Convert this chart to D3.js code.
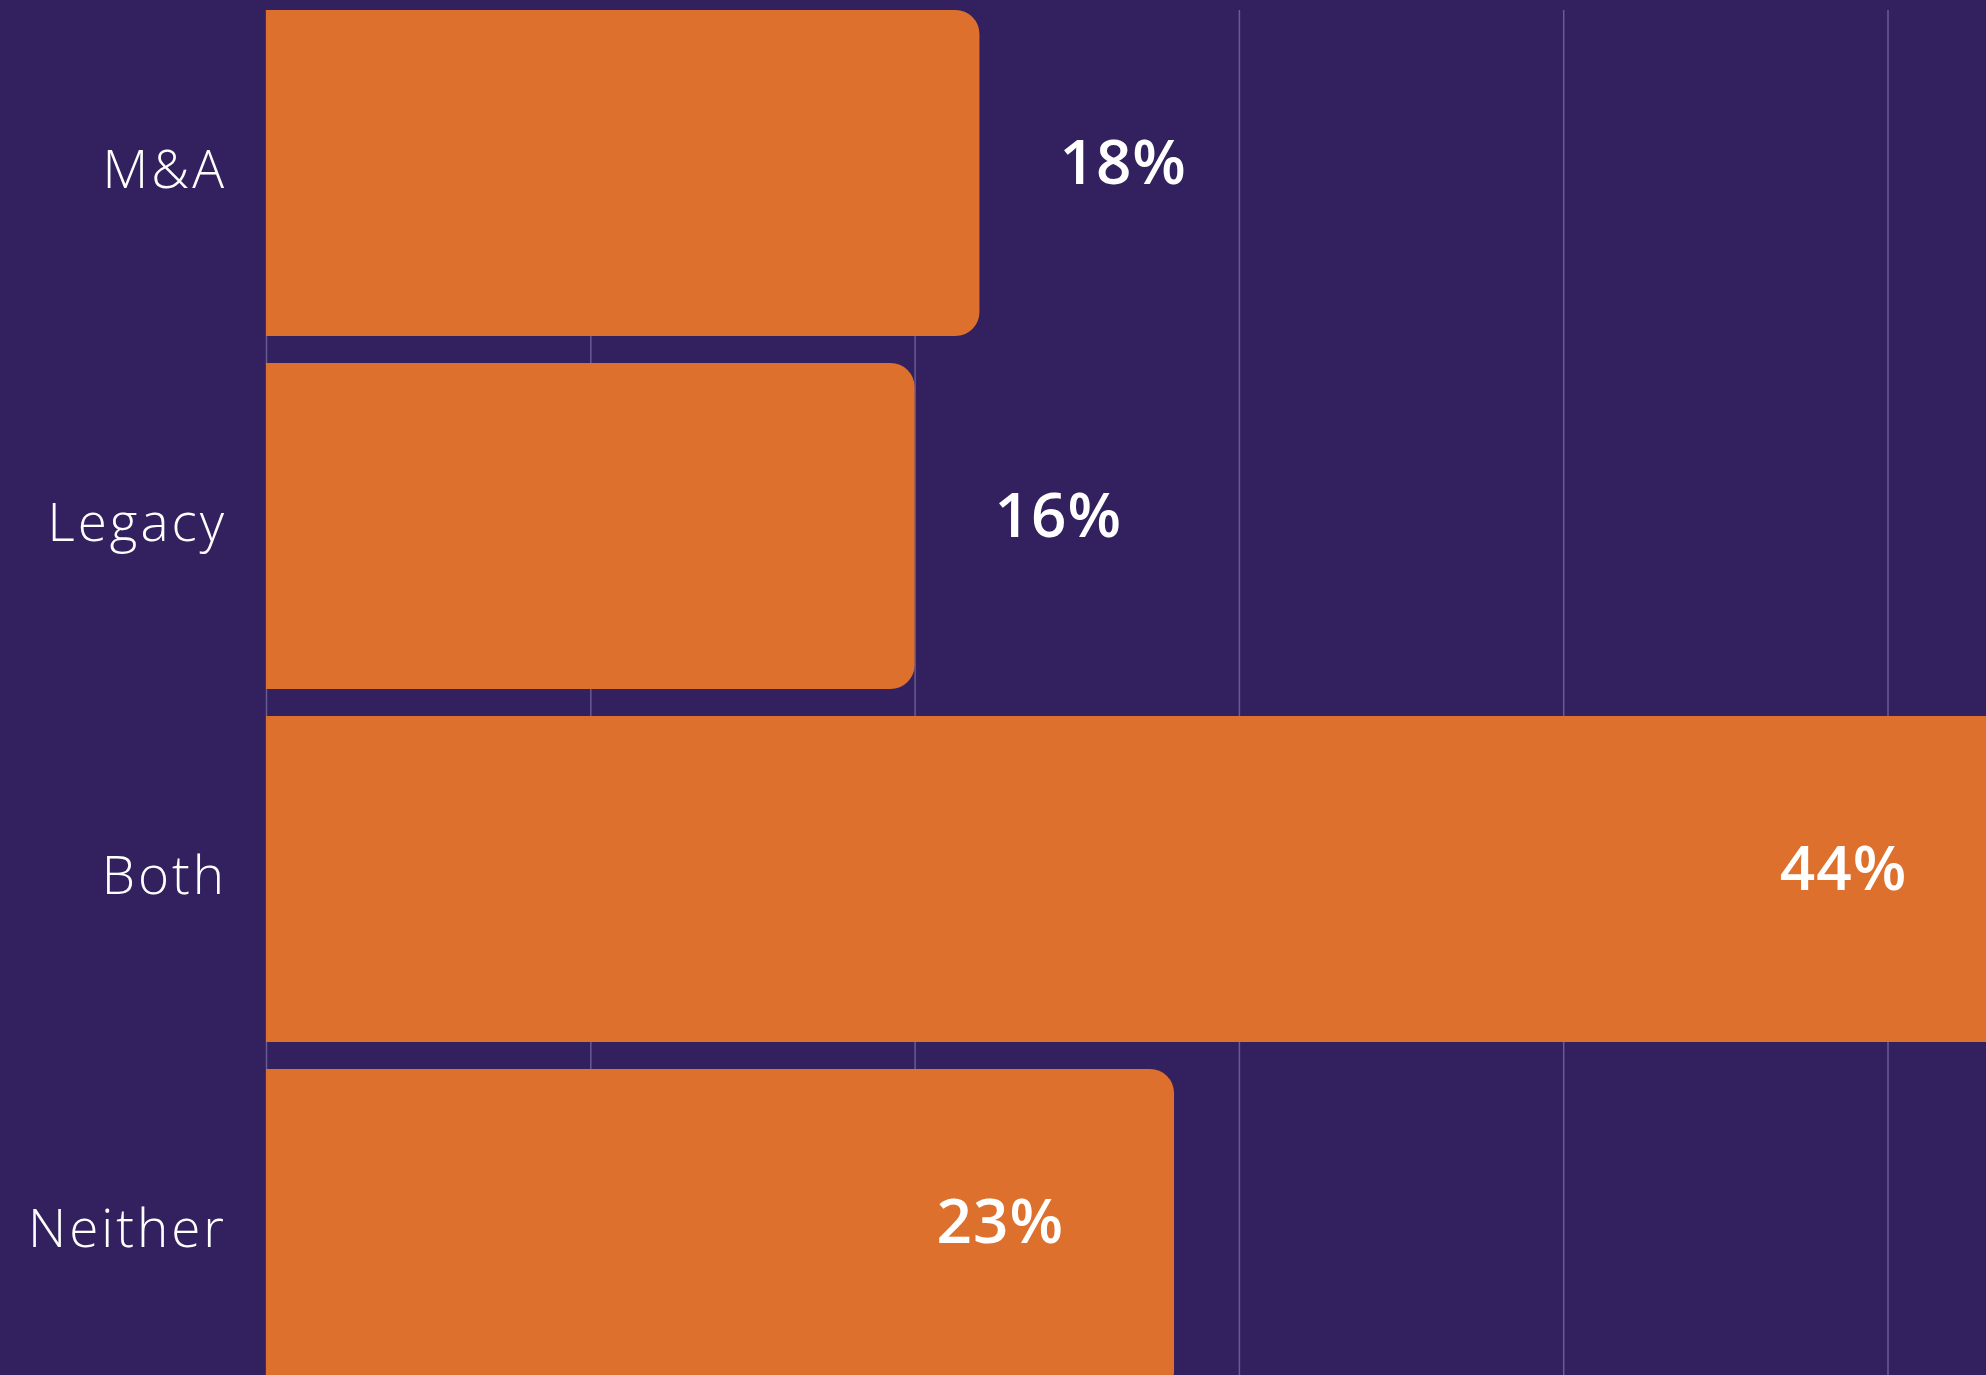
<!DOCTYPE html>
<html>
<head>
<meta charset="utf-8">
<script src="https://cdn.jsdelivr.net/npm/d3@7"></script>
<style>
	html,body{margin:0;padding:0;background:#33215f;}
	svg{display:block;}
</style>
</head>
<body>
<svg id="stage"></svg>
<script>
// chart data
var categories=["M&A","Legacy","Both","Neither"];
var responses=[44,40,108,56];            //respondents per answer (bar length)
var shares=[18,16,44,23];                //percent shown on each bar
var gridTicks=[0,20,40,60,80,100,120];

var width=1986,height=1375;
var barColor="#dd702c",bgColor="#33215f",gridColor="#675b94";

var svg=d3.select("#stage")
	.attr("width",width)
	.attr("height",height);

svg.append("rect")
	.attr("width",width)
	.attr("height",height)
	.attr("fill",bgColor);

var x=d3.scaleLinear()
	.domain([0,120])
	.range([266,266+120*16.215]);

var y=d3.scaleBand()
	.domain(categories)
	.range([10,1395])
	.paddingInner(27/353)
	.paddingOuter(0);

//vertical grid lines, behind the bars
var grid=d3.axisBottom(x)
	.tickValues(gridTicks)
	.tickSize(height)
	.tickFormat("");

svg.append("g")
	.attr("class","grid")
	.attr("transform","translate(0,10)")
	.call(grid)
	.call(function(g){g.select(".domain").remove();})
	.selectAll("line")
		.attr("stroke",gridColor)
		.attr("stroke-width",1.5);

//bar with rounded right corners only
function barPath(x0,x1,y0,h,r){
	r=Math.min(r,(x1-x0),h/2);
	return "M"+x0+","+y0
		+"H"+(x1-r)
		+"A"+r+","+r+" 0 0 1 "+x1+","+(y0+r)
		+"V"+(y0+h-r)
		+"A"+r+","+r+" 0 0 1 "+(x1-r)+","+(y0+h)
		+"H"+x0+"Z";
}

var rows=categories.map(function(c,i){
	return {cat:c,count:responses[i],share:shares[i]};
});

svg.append("g")
	.selectAll("path")
	.data(rows)
	.join("path")
		.attr("d",function(d){return barPath(x(0),x(d.count),y(d.cat),y.bandwidth(),24);})
		.attr("fill",barColor);

//category labels (letter-spacing widens them toward the original geometric face)
var yAxis=d3.axisLeft(y).tickSize(0).tickPadding(0);
svg.append("g")
	.attr("transform","translate(227,0)")
	.call(yAxis)
	.call(function(g){g.select(".domain").remove();})
	.selectAll("text")
		.attr("fill","#ffffff")
		.attr("dy",null)
		.attr("y",15)
		.style("font-family","'Open Sans', sans-serif")
		.style("font-weight",300)
		.style("letter-spacing","3px")
		.style("font-size","53px");

//value labels: inside the bar when there is room, else after it
svg.append("g")
	.selectAll("text")
	.data(rows)
	.join("text")
		.attr("x",function(d){return d.share>20 ? x(d.count)-110 : x(d.count)+80;})
		.attr("y",function(d){return y(d.cat)+y.bandwidth()/2+11;})
		.attr("text-anchor",function(d){return d.share>20 ? "end" : "start";})
		.attr("fill","#ffffff")
		.style("font-family","'Open Sans', sans-serif")
		.style("font-weight",600)
		.style("letter-spacing","1px")
		.style("font-size","62px")
		.text(function(d){return d.share+"%";});
</script>
</body>
</html>
